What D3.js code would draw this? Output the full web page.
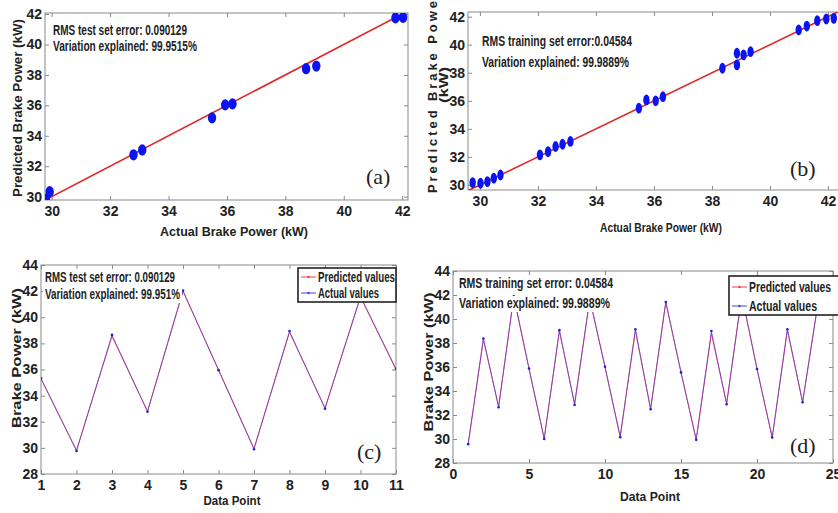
<!DOCTYPE html>
<html>
<head>
<meta charset="utf-8">
<script src="https://cdn.jsdelivr.net/npm/d3@7"></script>
<style>
body { margin: 0; background: #fff; }
text { font-family: "Liberation Sans Narrow", "Arial Narrow", "Liberation Sans", sans-serif; font-weight: bold; fill: #222; }
.lab { font-family: "Liberation Sans", Arial, sans-serif; }
.tag { font-family: "Liberation Serif", "Times New Roman", serif; font-weight: normal; font-size: 22px; }
</style>
</head>
<body>
<svg id="fig" width="838" height="513"></svg>
<script>
// (a) test set scatter
const aActual    = [29.80, 29.93, 32.80, 33.10, 35.49, 35.94, 36.19, 38.71, 39.06, 41.77, 42.03];
const aPredicted = [29.82, 30.33, 32.75, 33.07, 35.18, 36.03, 36.10, 38.41, 38.58, 41.75, 41.78];
// (b) training set scatter
const bActual    = [29.75, 30.02, 30.26, 30.48, 30.71, 32.07, 32.35, 32.61, 32.85, 33.12, 35.48, 35.74,
                    36.06, 36.31, 38.36, 38.86, 38.86, 39.09, 39.33, 40.99, 41.27, 41.63, 41.94, 42.20];
const bPredicted = [30.17, 30.12, 30.24, 30.48, 30.71, 32.14, 32.38, 32.74, 32.90, 33.10, 35.47, 36.06,
                    36.00, 36.29, 38.32, 39.39, 38.56, 39.27, 39.50, 41.05, 41.33, 41.71, 41.83, 41.88];
// (c) test set by data point
const cActual    = [35.32, 29.76, 38.65, 32.77, 42.05, 35.95, 29.90, 38.95, 33.00, 41.60, 36.05];
const cPredicted = [35.28, 29.82, 38.55, 32.80, 41.98, 35.98, 29.95, 38.85, 33.05, 41.55, 36.00];
// (d) training set by data point
const dActual    = [29.57, 38.38, 32.64, 41.90, 35.88, 30.01, 39.07, 32.84, 41.70, 36.02, 30.15, 39.15,
                    32.48, 41.42, 35.55, 29.93, 38.99, 32.90, 42.00, 35.83, 30.12, 39.15, 33.06, 41.20];
const dPredicted = [29.60, 38.30, 32.70, 41.85, 35.85, 30.05, 39.00, 32.95, 41.65, 36.00, 30.20, 39.05,
                    32.50, 41.40, 35.55, 29.95, 38.80, 32.95, 41.95, 35.85, 30.10, 39.10, 33.05, 41.25];

const ticks30to42 = [30, 32, 34, 36, 38, 40, 42];
const ticks28to44 = [28, 30, 32, 34, 36, 38, 40, 42, 44];
const ticksC = [1, 2, 3, 4, 5, 6, 7, 8, 9, 10, 11];
const ticksD = [0, 5, 10, 15, 20, 25];
const legendLabels = ["Predicted values", "Actual values"];

const svg = d3.select("#fig");
const frameColor = "#8a8a8a";
const predColor = "#f03a50";
const actColor = "#4040e8";

function drawPanel(o) {
    const g = svg.append("g");
    const x = d3.scaleLinear().domain(o.xDomain).range([o.left, o.right]);
    const y = d3.scaleLinear().domain(o.yDomain).range([o.bottom, o.top]);

    const clipId = "clip-" + o.name;
    g.append("clipPath").attr("id", clipId)
        .append("rect")
        .attr("x", o.left).attr("y", o.top)
        .attr("width", o.right - o.left).attr("height", o.bottom - o.top);

    // ticks on all four sides, pointing inside
    const bottom = g.append("g").attr("transform", `translate(0,${o.bottom})`)
        .call(d3.axisBottom(x).tickValues(o.xTicks).tickSizeInner(-4).tickSizeOuter(0).tickPadding(6));
    const left = g.append("g").attr("transform", `translate(${o.left},0)`)
        .call(d3.axisLeft(y).tickValues(o.yTicks).tickSizeInner(-4).tickSizeOuter(0).tickPadding(3));
    g.append("g").attr("transform", `translate(0,${o.top})`)
        .call(d3.axisTop(x).tickValues(o.xTicks).tickSizeInner(-4).tickSizeOuter(0).tickFormat(""));
    g.append("g").attr("transform", `translate(${o.right},0)`)
        .call(d3.axisRight(y).tickValues(o.yTicks).tickSizeInner(-4).tickSizeOuter(0).tickFormat(""));

    g.selectAll(".domain").remove();
    g.selectAll(".tick line").attr("stroke", frameColor);
    bottom.selectAll("text").attr("font-size", 14).attr("dy", "0.72em").attr("fill", "#222");
    left.selectAll("text").attr("font-size", 14).attr("fill", "#222");

    g.append("rect")
        .attr("x", o.left).attr("y", o.top)
        .attr("width", o.right - o.left).attr("height", o.bottom - o.top)
        .attr("fill", "none").attr("stroke", frameColor).attr("stroke-width", 1);

    const plot = g.append("g").attr("clip-path", `url(#${clipId})`);
    return { g, plot, x, y };
}

function scatterPanel(o) {
    const p = drawPanel(o);
    p.plot.append("line")
        .attr("x1", p.x(o.fit[0])).attr("y1", p.y(o.fit[0]))
        .attr("x2", p.x(o.fit[1])).attr("y2", p.y(o.fit[1]))
        .attr("stroke", "#e02828").attr("stroke-width", 1.6);
    p.plot.selectAll(".dot")
        .data(o.actual)
        .enter()
        .append("ellipse")
        .attr("cx", d => p.x(d))
        .attr("cy", (d, i) => p.y(o.predicted[i]))
        .attr("rx", o.rx).attr("ry", o.ry)
        .attr("fill", "#0a14f0");
    return p;
}

function linePanel(o) {
    const p = drawPanel(o);
    const line = d3.line().x((d, i) => p.x(i + 1)).y(d => p.y(d));
    p.plot.append("path").datum(o.predicted)
        .attr("d", line).attr("fill", "none").attr("stroke", predColor).attr("stroke-width", 1);
    p.plot.append("path").datum(o.actual)
        .attr("d", line).attr("fill", "none").attr("stroke", actColor).attr("stroke-width", 1)
        .attr("stroke-opacity", 0.6);
    p.plot.selectAll(".pt")
        .data(o.actual)
        .enter()
        .append("circle")
        .attr("cx", (d, i) => p.x(i + 1)).attr("cy", d => p.y(d))
        .attr("r", 1.3).attr("fill", "#2020d0");
    return p;
}

function legend(l) {
    const lg = svg.append("g");
    lg.append("rect")
        .attr("x", l.x).attr("y", l.y)
        .attr("width", l.w).attr("height", l.h)
        .attr("fill", "#fff").attr("stroke", "#222").attr("stroke-width", 1.6);
    const colors = [predColor, actColor];
    legendLabels.forEach((t, i) => {
        const yy = l.y + l.rowY[i];
        lg.append("line")
            .attr("x1", l.x + 3).attr("x2", l.x + 18)
            .attr("y1", yy).attr("y2", yy)
            .attr("stroke", colors[i]).attr("stroke-width", 1);
        lg.append("circle").attr("cx", l.x + 10.5).attr("cy", yy).attr("r", 1.2).attr("fill", colors[i]);
        lg.append("text")
            .attr("x", l.x + 20).attr("y", yy + 5)
            .attr("font-size", 14)
            .attr("textLength", l.tw[i]).attr("lengthAdjust", "spacingAndGlyphs")
            .text(t);
    });
}

function note(x, y, t, len, bg) {
    if (bg) {
        svg.append("rect").attr("x", x - 2).attr("y", y - 12).attr("width", len + 4).attr("height", 16)
            .attr("fill", "#fff");
    }
    svg.append("text").attr("x", x).attr("y", y)
        .attr("font-size", 14)
        .attr("textLength", len).attr("lengthAdjust", "spacingAndGlyphs")
        .text(t);
}

function label(x, y, t, len, rotate, size) {
    svg.append("text").attr("class", "lab")
        .attr("transform", rotate ? `translate(${x},${y}) rotate(-90)` : `translate(${x},${y})`)
        .attr("text-anchor", "middle")
        .attr("font-size", size || 12.5)
        .attr("textLength", len).attr("lengthAdjust", "spacingAndGlyphs")
        .text(t);
}

function tag(x, y, t) {
    svg.append("text").attr("class", "tag").attr("x", x).attr("y", y).text(t);
}

// (a)
scatterPanel({
    name: "a", left: 45, right: 408, top: 13, bottom: 200,
    xDomain: [29.77, 42.2], yDomain: [29.78, 42.07],
    xTicks: ticks30to42, yTicks: ticks30to42,
    actual: aActual, predicted: aPredicted, fit: [29.77, 42.2], rx: 4.2, ry: 5.6
});
note(53, 35, "RMS test set error: 0.090129", 134);
note(53, 51, "Variation explained: 99.9515%", 144);
label(234, 236, "Actual Brake Power (kW)", 148, false);
label(22, 108, "Predicted Brake Power (kW)", 178, true);
tag(366, 184, "(a)");

// (b)
scatterPanel({
    name: "b", left: 468, right: 846, top: 12, bottom: 190,
    xDomain: [29.59, 42.62], yDomain: [29.64, 42.33],
    xTicks: ticks30to42, yTicks: ticks30to42,
    actual: bActual, predicted: bPredicted, fit: [29.59, 42.62], rx: 3.2, ry: 5.4
});
note(482, 46, "RMS training set error:0.04584", 150);
note(482, 67, "Variation explained: 99.9889%", 147);
label(661, 232, "Actual Brake Power (kW)", 122, false);
svg.append("text").attr("class", "lab")
    .attr("transform", "translate(437,193) rotate(-90)")
    .attr("font-size", 13)
    .attr("textLength", 200).attr("lengthAdjust", "spacing")
    .text("Predicted Brake Power");
label(448, 85, "(kW)", 36, true, 12.5);
tag(790, 176, "(b)");

// (c)
linePanel({
    name: "c", left: 41, right: 396, top: 265, bottom: 474,
    xDomain: [1, 11], yDomain: [28, 44],
    xTicks: ticksC, yTicks: ticks28to44,
    actual: cActual, predicted: cPredicted
});
note(45, 282, "RMS test set error: 0.090129", 130, true);
note(45, 299, "Variation explained: 99.951%", 135, true);
legend({ x: 298, y: 268, w: 98, h: 34, rowY: [9, 25], tw: [77, 61] });
label(232, 505, "Data Point", 57, false);
label(21, 358, "Brake Power (kW)", 140, true);
tag(357, 459, "(c)");

// (d)
linePanel({
    name: "d", left: 453, right: 833, top: 271, bottom: 463,
    xDomain: [0, 25], yDomain: [28, 44],
    xTicks: ticksD, yTicks: ticks28to44,
    actual: dActual, predicted: dPredicted
});
note(459, 288, "RMS training set error: 0.04584", 154, true);
note(459, 308, "Variation explained: 99.9889%", 151, true);
legend({ x: 729, y: 276, w: 115, h: 39, rowY: [11, 30], tw: [82, 68] });
label(650, 501, "Data Point", 60, false);
label(433, 362, "Brake Power (kW)", 139, true);
tag(790, 453, "(d)");
</script>
</body>
</html>
